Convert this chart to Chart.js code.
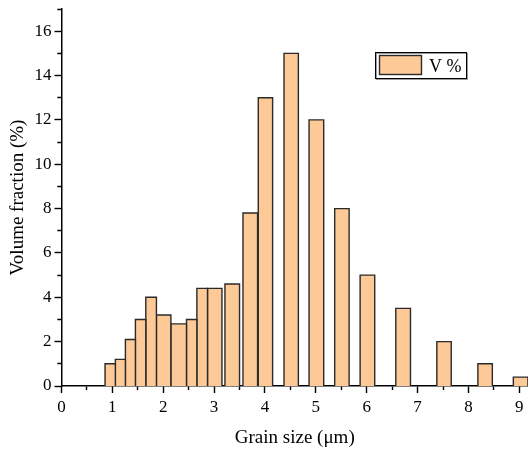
<!DOCTYPE html>
<html>
<head>
<meta charset="utf-8">
<script src="https://cdn.jsdelivr.net/npm/chart.js@4/dist/chart.umd.min.js"></script>
<style>
  html, body { margin: 0; padding: 0; background: #fff; }
  #wrap { width: 528px; height: 450px; }
</style>
</head>
<body>
<div id="wrap"><canvas id="myChart"></canvas></div>
<script>
// bin edges (µm) and volume fraction (%)
const binLeft  = [0.856, 1.059, 1.256, 1.453, 1.657, 1.866, 2.150, 2.457, 2.661, 2.870, 3.213, 3.567, 3.868, 4.374, 4.866, 5.370, 5.870, 6.571, 7.378, 8.185, 8.882];
const binRight = [1.059, 1.256, 1.453, 1.657, 1.866, 2.150, 2.457, 2.661, 2.870, 3.154, 3.500, 3.854, 4.150, 4.656, 5.154, 5.654, 6.157, 6.860, 7.661, 8.469, 9.169];
const volume   = [1.0, 1.2, 2.1, 3.0, 4.0, 3.2, 2.8, 3.0, 4.4, 4.4, 4.6, 7.8, 13, 15, 12, 8, 5, 3.5, 2, 1, 0.4];
const seriesLabel = "V %";
const xTitle = "Grain size (\u03bcm)";
const yTitle = "Volume fraction (%)";

const barFill = "rgb(253,201,151)";
const barEdge = "#2a2a2a";
const serif = "'Liberation Serif', 'Times New Roman', serif";

// each bar is a closed outline drawn through the scales
let datasets = [];
for (let i = 0; i < volume.length; i++) {
    datasets.push({
        label: seriesLabel,
        data: [
            { x: binLeft[i], y: 0 },
            { x: binLeft[i], y: volume[i] },
            { x: binRight[i], y: volume[i] },
            { x: binRight[i], y: 0 }
        ],
        fill: "origin",
        backgroundColor: barFill,
        borderColor: barEdge,
        borderWidth: 1.4,
        pointRadius: 0,
        tension: 0,
        clip: false
    });
}

// legend box inside the plot, top right
const legendBox = {
    id: "legendBox",
    afterDatasetsDraw(chart) {
        const c = chart.ctx;
        const a = chart.chartArea;
        const x0 = a.right - 153, y0 = a.top + 43;
        c.save();
        c.strokeStyle = "#9a9a9a";
        c.lineWidth = 1;
        c.strokeRect(x0 + 1.5, y0 + 1.5, 91, 26);
        c.strokeStyle = "#000";
        c.strokeRect(x0 + 0.5, y0 + 0.5, 91, 26);
        c.fillStyle = barFill;
        c.fillRect(x0 + 4.5, y0 + 3.5, 42, 19);
        c.strokeStyle = barEdge;
        c.lineWidth = 1.4;
        c.strokeRect(x0 + 4.5, y0 + 3.5, 42, 19);
        c.fillStyle = "#000";
        c.font = "18px " + serif;
        c.textBaseline = "alphabetic";
        c.fillText(seriesLabel, x0 + 54, y0 + 20);
        c.restore();
    }
};

// minor ticks: x ticks start at the axis, y ticks start at their outer end
const xMinorDash = (ctx) => {
    if (!ctx.tick) return [];
    return Math.abs(ctx.tick.value % 1) > 1e-6 ? [3.5, 100] : [];
};
const yMinorDash = (ctx) => {
    if (!ctx.tick) return [];
    return Math.abs(ctx.tick.value % 2) > 1e-6 ? [0, 2.8, 4, 100] : [];
};

const ctx = document.getElementById("myChart");
new Chart(ctx, {
    type: "line",
    data: { datasets: datasets },
    plugins: [legendBox],
    options: {
        responsive: true,
        maintainAspectRatio: false,
        animation: false,
        layout: { padding: { top: 9, right: 0, left: 0, bottom: 0 } },
        plugins: {
            legend: { display: false },
            tooltip: { enabled: false }
        },
        scales: {
            x: {
                type: "linear",
                min: 0,
                max: 9.17,
                bounds: "data",
                ticks: {
                    stepSize: 0.5,
                    includeBounds: false,
                    autoSkip: false,
                    maxRotation: 0,
                    padding: 4,
                    color: "#000",
                    font: { family: serif, size: 17 },
                    callback: (v) => (Math.abs(v % 1) < 1e-6 ? String(Math.round(v)) : "")
                },
                grid: {
                    drawOnChartArea: false,
                    tickLength: 7,
                    tickColor: "#000",
                    tickWidth: 1.4,
                    tickBorderDash: xMinorDash
                },
                border: { color: "#000", width: 1.5 },
                title: {
                    display: true,
                    text: xTitle,
                    color: "#000",
                    font: { family: serif, size: 19 },
                    padding: { top: 4, bottom: 1 }
                },
                afterFit: (scale) => {
                    scale.height = 64;
                    scale.paddingRight = 0;
                }
            },
            y: {
                min: 0,
                max: 17,
                bounds: "data",
                ticks: {
                    stepSize: 1,
                    autoSkip: false,
                    padding: 3,
                    color: "#000",
                    font: { family: serif, size: 17 },
                    callback: (v) => (v % 2 === 0 ? String(v) : "")
                },
                grid: {
                    drawOnChartArea: false,
                    tickLength: 7,
                    tickColor: "#000",
                    tickWidth: 1.4,
                    tickBorderDash: yMinorDash
                },
                border: { color: "#000", width: 1.5 },
                title: {
                    display: true,
                    text: yTitle,
                    color: "#000",
                    font: { family: serif, size: 19 },
                    padding: { top: 7, bottom: 0 }
                },
                afterFit: (scale) => {
                    scale.width = 61.5;
                    scale.paddingTop = 0;
                }
            }
        }
    }
});
</script>
</body>
</html>
